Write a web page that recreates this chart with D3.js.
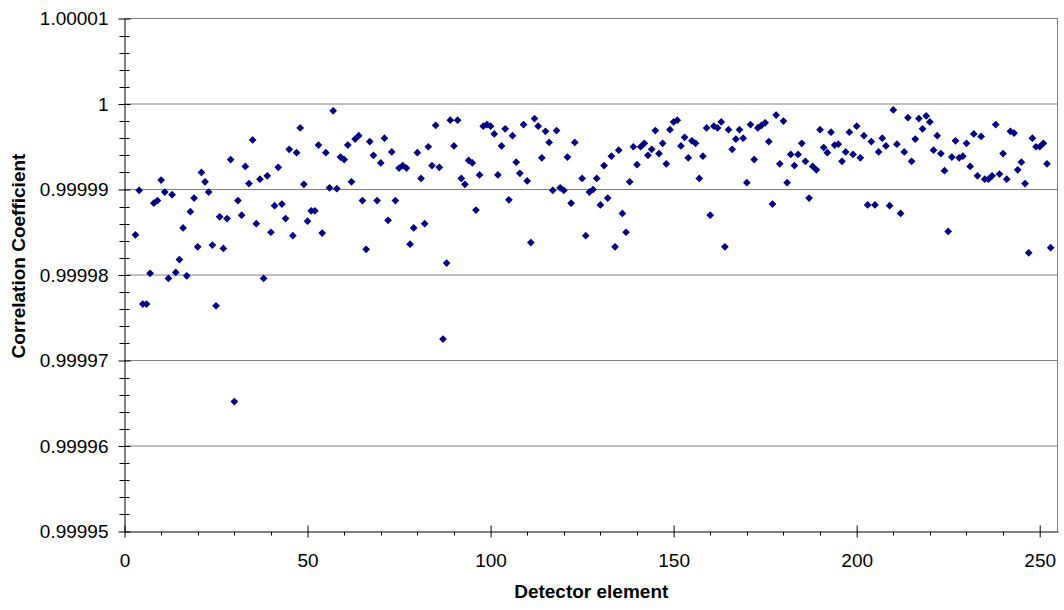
<!DOCTYPE html>
<html>
<head>
<meta charset="utf-8">
<script src="https://cdn.jsdelivr.net/npm/d3@7"></script>
<style>
  body { margin: 0; background: #fff; }
  svg { display: block; }
  text { font-family: 'Liberation Sans', Arial, sans-serif; }
</style>
</head>
<body>
<svg id="chart" width="1064" height="610"></svg>
<script>
// detector element numbers (element 124 has no point)
const detector = [
  3, 4, 5, 6, 7, 8, 9, 10, 11, 12, 13, 14, 15, 16, 17, 18, 19, 20, 21, 22,
  23, 24, 25, 26, 27, 28, 29, 30, 31, 32, 33, 34, 35, 36, 37, 38, 39, 40, 41, 42,
  43, 44, 45, 46, 47, 48, 49, 50, 51, 52, 53, 54, 55, 56, 57, 58, 59, 60, 61, 62,
  63, 64, 65, 66, 67, 68, 69, 70, 71, 72, 73, 74, 75, 76, 77, 78, 79, 80, 81, 82,
  83, 84, 85, 86, 87, 88, 89, 90, 91, 92, 93, 94, 95, 96, 97, 98, 99, 100, 101, 102,
  103, 104, 105, 106, 107, 108, 109, 110, 111, 112, 113, 114, 115, 116, 117, 118, 119, 120, 121, 122,
  123, 125, 126, 127, 128, 129, 130, 131, 132, 133, 134, 135, 136, 137, 138, 139, 140, 141, 142, 143,
  144, 145, 146, 147, 148, 149, 150, 151, 152, 153, 154, 155, 156, 157, 158, 159, 160, 161, 162, 163,
  164, 165, 166, 167, 168, 169, 170, 171, 172, 173, 174, 175, 176, 177, 178, 179, 180, 181, 182, 183,
  184, 185, 186, 187, 188, 189, 190, 191, 192, 193, 194, 195, 196, 197, 198, 199, 200, 201, 202, 203,
  204, 205, 206, 207, 208, 209, 210, 211, 212, 213, 214, 215, 216, 217, 218, 219, 220, 221, 222, 223,
  224, 225, 226, 227, 228, 229, 230, 231, 232, 233, 234, 235, 236, 237, 238, 239, 240, 241, 242, 243,
  244, 245, 246, 247, 248, 249, 250, 251, 252, 253
];

const coefficient = [
  0.9999847, 0.9999899, 0.9999766, 0.9999766, 0.9999802, 0.9999884, 0.9999887, 0.9999911, 0.9999897, 0.9999796,
  0.9999894, 0.9999803, 0.9999818, 0.9999855, 0.9999799, 0.9999874, 0.9999890, 0.9999833, 0.9999920, 0.9999909,
  0.9999897, 0.9999835, 0.9999764, 0.9999868, 0.9999831, 0.9999866, 0.9999935, 0.9999652, 0.9999887, 0.9999870,
  0.9999927, 0.9999907, 0.9999958, 0.9999860, 0.9999912, 0.9999796, 0.9999916, 0.9999850, 0.9999881, 0.9999926,
  0.9999883, 0.9999866, 0.9999947, 0.9999846, 0.9999943, 0.9999972, 0.9999906, 0.9999863, 0.9999875, 0.9999875,
  0.9999952, 0.9999849, 0.9999943, 0.9999902, 0.9999992, 0.9999901, 0.9999938, 0.9999935, 0.9999952, 0.9999909,
  0.9999959, 0.9999963, 0.9999887, 0.9999830, 0.9999956, 0.9999940, 0.9999887, 0.9999931, 0.9999960, 0.9999864,
  0.9999944, 0.9999887, 0.9999925, 0.9999928, 0.9999925, 0.9999836, 0.9999855, 0.9999943, 0.9999913, 0.9999860,
  0.9999950, 0.9999928, 0.9999975, 0.9999926, 0.9999725, 0.9999814, 0.9999981, 0.9999951, 0.9999981, 0.9999913,
  0.9999906, 0.9999934, 0.9999931, 0.9999876, 0.9999917, 0.9999974, 0.9999976, 0.9999974, 0.9999965, 0.9999917,
  0.9999951, 0.9999971, 0.9999888, 0.9999963, 0.9999932, 0.9999919, 0.9999976, 0.9999910, 0.9999838, 0.9999983,
  0.9999974, 0.9999937, 0.9999968, 0.9999955, 0.9999899, 0.9999969, 0.9999902, 0.9999899, 0.9999938, 0.9999884,
  0.9999955, 0.9999913, 0.9999846, 0.9999897, 0.9999900, 0.9999913, 0.9999882, 0.9999928, 0.9999890, 0.9999939,
  0.9999833, 0.9999946, 0.9999872, 0.9999850, 0.9999909, 0.9999950, 0.9999929, 0.9999950, 0.9999954, 0.9999940,
  0.9999947, 0.9999969, 0.9999942, 0.9999954, 0.9999930, 0.9999970, 0.9999979, 0.9999981, 0.9999951, 0.9999961,
  0.9999937, 0.9999957, 0.9999954, 0.9999913, 0.9999939, 0.9999972, 0.9999870, 0.9999974, 0.9999972, 0.9999979,
  0.9999833, 0.9999970, 0.9999947, 0.9999959, 0.9999970, 0.9999960, 0.9999908, 0.9999976, 0.9999935, 0.9999972,
  0.9999975, 0.9999978, 0.9999956, 0.9999883, 0.9999987, 0.9999930, 0.9999980, 0.9999908, 0.9999941, 0.9999928,
  0.9999941, 0.9999954, 0.9999933, 0.9999890, 0.9999927, 0.9999923, 0.9999970, 0.9999949, 0.9999943, 0.9999967,
  0.9999952, 0.9999953, 0.9999933, 0.9999944, 0.9999967, 0.9999941, 0.9999974, 0.9999937, 0.9999963, 0.9999882,
  0.9999956, 0.9999882, 0.9999944, 0.9999960, 0.9999951, 0.9999881, 0.9999993, 0.9999953, 0.9999872, 0.9999944,
  0.9999984, 0.9999933, 0.9999959, 0.9999983, 0.9999971, 0.9999986, 0.9999979, 0.9999946, 0.9999963, 0.9999942,
  0.9999922, 0.9999851, 0.9999938, 0.9999957, 0.9999937, 0.9999939, 0.9999954, 0.9999927, 0.9999965, 0.9999916,
  0.9999962, 0.9999912, 0.9999912, 0.9999916, 0.9999976, 0.9999918, 0.9999942, 0.9999912, 0.9999968, 0.9999966,
  0.9999923, 0.9999932, 0.9999907, 0.9999826, 0.9999960, 0.9999950, 0.9999950, 0.9999954, 0.9999930, 0.9999832
];

const xTicks = [0, 50, 100, 150, 200, 250];
const yTicks = [0.99995, 0.99996, 0.99997, 0.99998, 0.99999, 1, 1.00001];

const data = detector.map((d, i) => ({ element: d, r: coefficient[i] }));

const svg = d3.select('#chart');
const plotLeft = 124.5;
const plotRight = 1058;
const plotTop = 18.5;
const plotBottom = 531.5;
const fontSize = 19;

const x = d3.scaleLinear().domain([0, 255]).range([plotLeft, plotRight]);
const y = d3.scaleLinear().domain([0.99995, 1.00001]).range([plotBottom, plotTop]);

// gridlines
svg.append('g')
  .selectAll('line')
  .data(yTicks.slice(1))
  .enter()
  .append('line')
  .attr('x1', plotLeft)
  .attr('x2', plotRight)
  .attr('y1', (d) => y(d))
  .attr('y2', (d) => y(d))
  .attr('stroke', '#808080')
  .attr('stroke-width', 1);

// right border of plot area
svg.append('line')
  .attr('x1', plotRight - 0.5)
  .attr('x2', plotRight - 0.5)
  .attr('y1', plotTop)
  .attr('y2', plotBottom)
  .attr('stroke', '#808080');

// minor ticks
const yMinor = [];
for (let i = 0; i < yTicks.length - 1; i++) {
  for (let k = 1; k < 5; k++) yMinor.push(yTicks[i] + (yTicks[i + 1] - yTicks[i]) * k / 5);
}
const xMinor = [];
for (let v = 10; v < 255; v += 10) if (v % 50 !== 0) xMinor.push(v);

svg.append('g')
  .selectAll('line')
  .data(yMinor)
  .enter()
  .append('line')
  .attr('x1', plotLeft - 5)
  .attr('x2', plotLeft + 5)
  .attr('y1', (d) => Math.round(y(d)) + 0.5)
  .attr('y2', (d) => Math.round(y(d)) + 0.5)
  .attr('stroke', '#000');

svg.append('g')
  .selectAll('line')
  .data(xMinor)
  .enter()
  .append('line')
  .attr('x1', (d) => Math.round(x(d)) + 0.5)
  .attr('x2', (d) => Math.round(x(d)) + 0.5)
  .attr('y1', plotBottom)
  .attr('y2', plotBottom + 4)
  .attr('stroke', '#000');

// y axis
const yAxis = d3.axisLeft(y)
  .tickValues(yTicks)
  .tickSize(6)
  .tickSizeOuter(0)
  .tickPadding(10)
  .tickFormat((d) => String(+d.toFixed(5)));

const gy = svg.append('g')
  .attr('transform', `translate(${plotLeft},0)`)
  .call(yAxis);
gy.selectAll('.tick line').attr('x1', 6).attr('x2', -6);
gy.selectAll('text').attr('font-size', fontSize).attr('fill', '#000');
gy.attr('font-family', null);
gy.select('.domain').attr('stroke', '#000');

// x axis
const xAxis = d3.axisBottom(x)
  .tickValues(xTicks)
  .tickSize(6)
  .tickSizeOuter(0)
  .tickPadding(16);

const gx = svg.append('g')
  .attr('transform', `translate(0,${plotBottom})`)
  .call(xAxis);
gx.selectAll('.tick line').attr('y1', -6).attr('y2', 6);
gx.selectAll('text').attr('font-size', fontSize).attr('fill', '#000');
gx.attr('font-family', null);
gx.select('.domain').attr('stroke', '#000');

// points
svg.append('g')
  .selectAll('path')
  .data(data)
  .enter()
  .append('path')
  .attr('d', d3.symbol(d3.symbolSquare, 30))
  .attr('transform', (d) => `translate(${x(d.element)},${y(d.r)}) rotate(45)`)
  .attr('fill', '#000080');

// axis titles
svg.append('text')
  .attr('x', (plotLeft + plotRight) / 2)
  .attr('y', 598)
  .attr('text-anchor', 'middle')
  .attr('font-size', fontSize)
  .attr('font-weight', 'bold')
  .text('Detector element');

svg.append('text')
  .attr('transform', 'rotate(-90)')
  .attr('x', -256)
  .attr('y', 25)
  .attr('text-anchor', 'middle')
  .attr('font-size', fontSize)
  .attr('font-weight', 'bold')
  .text('Correlation Coefficient');
</script>
</body>
</html>
